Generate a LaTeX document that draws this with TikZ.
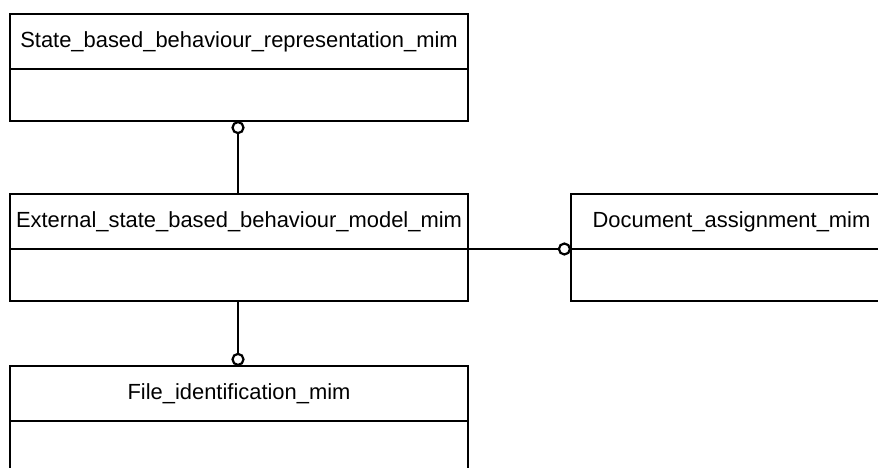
\documentclass[tikz,border=0pt]{standalone}
\usepackage{fontspec}
\setmainfont{Liberation Sans}
\begin{document}
\begin{tikzpicture}[x=1bp,y=-1bp,
  hdr/.style={draw, line width=2.2bp, outer sep=0pt, minimum width=458bp, minimum height=55bp, inner sep=0pt, anchor=north west, font=\fontsize{22}{26}\selectfont},
  bdy/.style={draw, line width=2.2bp, outer sep=0pt, minimum width=458bp, minimum height=52bp, inner sep=0pt, anchor=north west},
  ring/.style={circle, draw, fill=white, line width=2.2bp, outer sep=1.1bp, minimum size=11bp, inner sep=0pt},
  conn/.style={line width=2.2bp}]
\useasboundingbox (0,0) rectangle (878,468);
\clip (0,0) rectangle (878,468);
% box 1
\node[hdr] (h1) at (10,14) {State\_based\_behaviour\_representation\_mim};
\node[bdy] (b1) at (h1.south west) {};
% box 2
\node[hdr] (h2) at (10,194) {External\_state\_based\_behaviour\_model\_mim};
\node[bdy] (b2) at (h2.south west) {};
% box 3
\node[hdr, minimum width=321bp] (h3) at (571,194) {Document\_assignment\_mim};
\node[bdy, minimum width=321bp] (b3) at (h3.south west) {};
% box 4
\node[hdr] (h4) at (10,366) {File\_identification\_mim};
\node[bdy] (b4) at (h4.south west) {};
% rings
\node[ring, anchor=north] (r1) at (b1.south -| 238,0) {};
\node[ring, anchor=south] (r4) at (h4.north -| 238,0) {};
\node[ring, anchor=east] (r3) at (h3.south west) {};
% connectors
\draw[conn] (r1.south) -- (r1.south |- h2.north);
\draw[conn] (r4.north) -- (r4.north |- b2.south);
\draw[conn] (h2.south east) -- (r3.west);
\end{tikzpicture}
\end{document}
